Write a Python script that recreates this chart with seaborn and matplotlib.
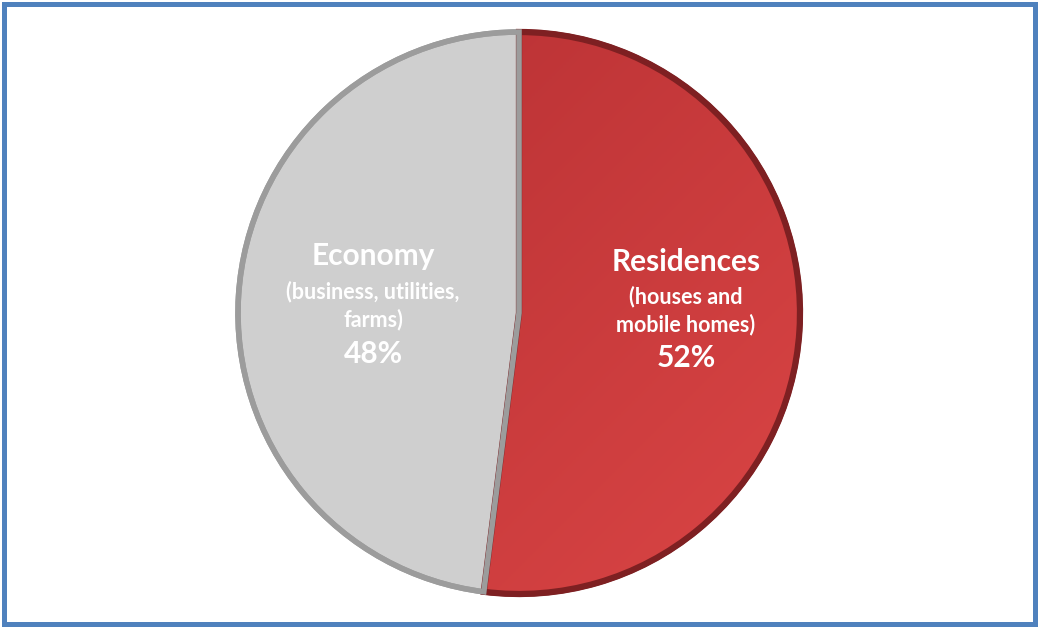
import numpy as np
import matplotlib
matplotlib.use("Agg")
import matplotlib.pyplot as plt
from matplotlib.patches import Rectangle, Wedge
import seaborn as sns

# Share of the total, by sector
categories = ["Residences", "Economy"]
subtitles = [["(houses and", "mobile homes)"], ["(business, utilities,", "farms)"]]
shares = [52, 48]

sns.set_theme(style="white")
plt.rcParams["font.family"] = ["Lato", "DejaVu Sans"]

W, H = 1038, 627
fig = plt.figure(figsize=(W / 100, H / 100), dpi=100)
ax = fig.add_axes([0, 0, 1, 1])

fill_colors = ["#C73A3B", "#CFCFCF"]
edge_colors = ["#7E2022", "#9C9C9C"]
cx, cy, r = 519, H - 313, 281

wedges, _ = ax.pie(shares, startangle=90, counterclock=False, colors=fill_colors,
                   center=(cx, cy), radius=r, frame=True,
                   wedgeprops=dict(linewidth=4))
for w, ec in zip(wedges, edge_colors):
    w.set_edgecolor(ec)
    w.set_joinstyle("miter")

# soft diagonal shading on the red slice: darker top-left, lighter bottom-right
yy, xx = np.mgrid[0:1:200j, 0:1:200j]
grad = xx * 0.5 + yy * 0.5
cmap = matplotlib.colors.LinearSegmentedColormap.from_list("red", ["#B52F32", "#DA4545"])
img = ax.imshow(grad, extent=(cx - r, cx + r, cy - r, cy + r), origin="upper",
                cmap=cmap, zorder=wedges[0].get_zorder() + 0.1, interpolation="bilinear")
theta_end = 90 - 360 * shares[0] / 100
clip = Wedge((cx, cy), r - 2, theta_end, 90, transform=ax.transData)
img.set_clip_path(clip)
# outlines drawn over the shading
ax.add_patch(Wedge((cx, cy), r, theta_end, 90, facecolor="none",
                   edgecolor=edge_colors[0], linewidth=4.5, zorder=img.get_zorder() + 0.1))
ax.add_patch(Wedge((cx, cy), r, 90, 90 + 360 * shares[1] / 100, facecolor="none",
                   edgecolor=edge_colors[1], linewidth=4, zorder=img.get_zorder() + 0.2))
ax.set_xlim(0, W)
ax.set_ylim(0, H)
ax.set_aspect("equal")
ax.set_axis_off()

# label rows (pixel rows from the top): title, two subtitle lines, percentage
label_x = [686, 373]
label_rows = [[262, 297, 325, 358], [256, 292, 320, 354]]
for x, rows, name, sub, val in zip(label_x, label_rows, categories, subtitles, shares):
    ax.text(x, H - rows[0], name, ha="center", va="center", color="white",
            fontsize=21.5, fontweight="bold", zorder=10)
    for line, row in zip(sub, rows[1:3]):
        ax.text(x, H - row, line, ha="center", va="center", color="white",
                fontsize=15.5, fontweight="bold", zorder=10)
    ax.text(x, H - rows[3], f"{val}%", ha="center", va="center", color="white",
            fontsize=21.5, fontweight="bold", zorder=10)

ax.add_patch(Rectangle((3.5, 3.5), W - 7, H - 7, fill=False, edgecolor="#4F81BD",
                       linewidth=3.6, zorder=20))

fig.savefig("out.png", dpi=100)
